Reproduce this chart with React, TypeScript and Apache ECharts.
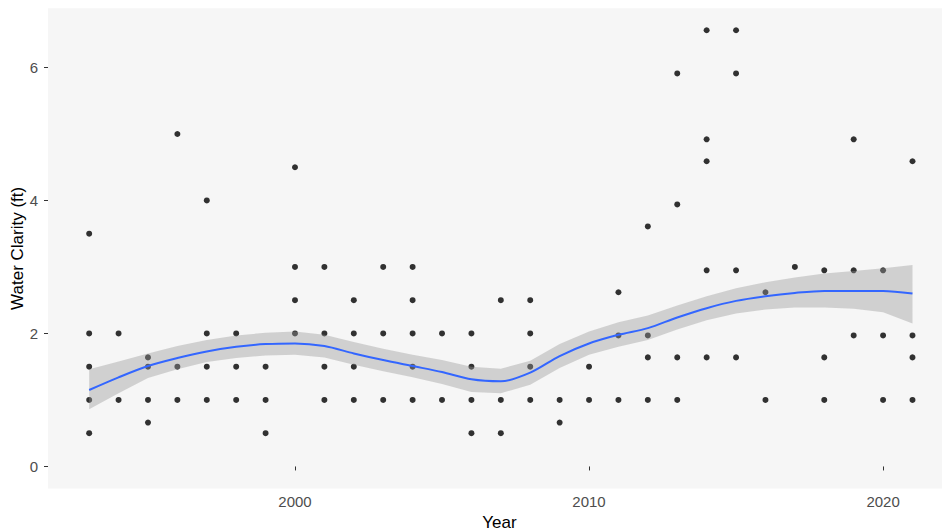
import React, { useEffect, useRef } from "react";
import * as echarts from "echarts";

// Observed water clarity readings per year (ft)
const years = [
  1993, 1994, 1995, 1996, 1997, 1998, 1999, 2000, 2001, 2002, 2003, 2004, 2005, 2006,
  2007, 2008, 2009, 2010, 2011, 2012, 2013, 2014, 2015, 2016, 2017, 2018, 2019, 2020, 2021,
];
const clarityByYear = [
  [3.5, 2, 1.5, 1, 0.5],
  [2, 1],
  [1.64, 1.5, 1, 0.66],
  [5, 1.5, 1],
  [4, 2, 1.5, 1],
  [2, 1.5, 1],
  [1.5, 1, 0.5],
  [4.5, 3, 2.5, 2],
  [3, 2, 1.5, 1],
  [2.5, 2, 1.5, 1],
  [3, 2, 1],
  [3, 2.5, 2, 1.5, 1],
  [2, 1],
  [2, 1.5, 1, 0.5],
  [2.5, 1, 0.5],
  [2.5, 2, 1.5, 1],
  [1, 0.66],
  [1.5, 1],
  [2.62, 1.97, 1],
  [3.61, 1.97, 1.64, 1],
  [5.91, 3.94, 1.64, 1],
  [6.56, 4.92, 4.59, 2.95, 1.64],
  [6.56, 5.91, 2.95, 1.64],
  [2.62, 1],
  [3.0],
  [2.95, 1.64, 1],
  [4.92, 2.95, 1.97],
  [2.95, 1.97, 1],
  [4.59, 1.97, 1.64, 1],
];

// LOESS smooth with confidence band
const smoothYears = years;
const smoothFit = [
  1.15, 1.34, 1.51, 1.63, 1.73, 1.8, 1.84, 1.85, 1.81, 1.7, 1.6, 1.51, 1.42, 1.31,
  1.28, 1.41, 1.66, 1.85, 1.98, 2.08, 2.24, 2.38, 2.49, 2.56, 2.61, 2.64, 2.64, 2.64, 2.6,
];
const smoothLower = [
  0.86, 1.1, 1.33, 1.46, 1.57, 1.63, 1.67, 1.68, 1.64, 1.53, 1.43, 1.34, 1.24, 1.12,
  1.1, 1.23, 1.48, 1.68, 1.8, 1.9, 2.06, 2.2, 2.3, 2.36, 2.39, 2.39, 2.37, 2.32, 2.15,
];
const smoothUpper = [
  1.46, 1.58, 1.7, 1.81, 1.9, 1.97, 2.01, 2.03, 1.98, 1.87, 1.77, 1.68, 1.6, 1.5,
  1.47, 1.59, 1.84, 2.03, 2.17, 2.27, 2.42, 2.56, 2.68, 2.77, 2.84, 2.9, 2.94, 2.98, 3.03,
];

const xTicks = [2000, 2010, 2020];
const yTicks = [0, 2, 4, 6];

const FONT = "'Liberation Sans', Arial, Helvetica, sans-serif";

export default function App() {
  const ref = useRef<HTMLDivElement>(null);

  useEffect(() => {
    if (!ref.current) return;
    const chart = echarts.init(ref.current, undefined, { renderer: "svg" });

    const points: number[][] = [];
    years.forEach((yr, i) => clarityByYear[i].forEach((v) => points.push([yr, v])));

    const bandData = smoothYears.map((x, i) => [x, smoothLower[i], smoothUpper[i]]);

    chart.setOption({
      animation: false,
      backgroundColor: "#ffffff",
      grid: {
        left: 48,
        top: 8.3,
        width: 903,
        height: 480.1,
        containLabel: false,
        outerBoundsMode: "none",
        show: true,
        backgroundColor: "#f6f6f6",
        borderWidth: 0,
      },
      xAxis: {
        type: "value",
        min: 1991.6,
        max: 2022.31,
        name: "Year",
        nameLocation: "middle",
        nameGap: 26,
        nameMoveOverlap: false,
        nameTextStyle: { fontFamily: FONT, fontSize: 17, color: "#000000" },
        axisLine: { show: false },
        splitLine: { show: false },
        axisTick: {
          show: true,
          length: 4,
          customValues: xTicks,
          lineStyle: { color: "#333333", width: 1 },
        },
        axisLabel: {
          customValues: xTicks,
          formatter: (v: number) => String(v),
          margin: 6,
          fontFamily: FONT,
          fontSize: 15,
          color: "#4d4d4d",
        },
      },
      yAxis: {
        type: "value",
        min: -0.33,
        max: 6.89,
        name: "Water Clarity (ft)",
        nameLocation: "middle",
        nameRotate: 90,
        nameGap: 22,
        nameMoveOverlap: false,
        nameTextStyle: { fontFamily: FONT, fontSize: 17, color: "#000000" },
        axisLine: { show: false },
        splitLine: { show: false },
        axisTick: {
          show: true,
          length: 4,
          customValues: yTicks,
          lineStyle: { color: "#333333", width: 1 },
        },
        axisLabel: {
          customValues: yTicks,
          formatter: (v: number) => String(v),
          margin: 10,
          fontFamily: FONT,
          fontSize: 15,
          color: "#4d4d4d",
        },
      },
      series: [
        {
          type: "scatter",
          data: points,
          symbol: "circle",
          symbolSize: 6,
          itemStyle: { color: "#000000" },
          z: 1,
          silent: true,
        },
        {
          type: "custom",
          data: bandData,
          encode: { x: 0, y: [1, 2] },
          z: 2,
          silent: true,
          renderItem: (params: any, api: any) => {
            if (params.dataIndex !== 0) return null;
            const upperPts = bandData.map((d) => api.coord([d[0], d[2]]));
            const lowerPts = bandData.map((d) => api.coord([d[0], d[1]])).reverse();
            return {
              type: "polygon",
              shape: { points: upperPts.concat(lowerPts) },
              style: { fill: "rgba(153,153,153,0.4)", stroke: "none" },
            };
          },
        },
        {
          type: "line",
          data: smoothYears.map((x, i) => [x, smoothFit[i]]),
          smooth: 0.3,
          symbol: "none",
          lineStyle: { color: "#3366FF", width: 2 },
          z: 3,
          silent: true,
        },
      ],
    });

    return () => chart.dispose();
  }, []);

  return (
    <div
      ref={ref}
      style={{ position: "fixed", left: 0, top: 0, width: 942, height: 531 }}
    />
  );
}
